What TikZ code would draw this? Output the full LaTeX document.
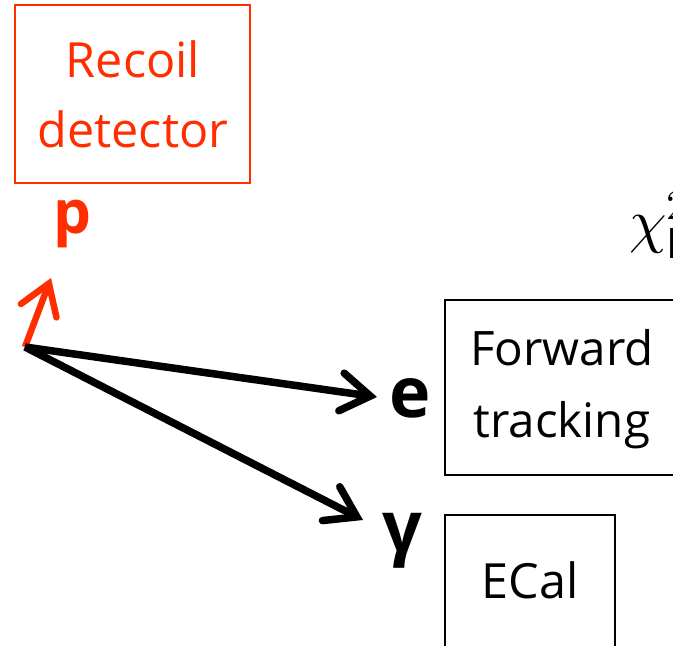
\documentclass[tikz,border=0pt]{standalone}
\usepackage{fontspec}
\usepackage{unicode-math}
\setmainfont{Open Sans}
\setmathfont{Latin Modern Math}
\usetikzlibrary{arrows.meta}
\definecolor{recoilred}{RGB}{255,45,0}
\begin{document}
\begin{tikzpicture}[x=1pt,y=-1pt,
  detbox/.style={draw, line width=2pt, inner sep=0pt},
  bigtext/.style={font=\fontsize{48.5}{70}\selectfont, align=center, inner sep=0pt},
  partlabel/.style={font=\fontsize{70}{70}\selectfont\bfseries, inner sep=0pt, anchor=base},
  track/.style={line width=7.5pt, -{Straight Barb[length=29pt,width=38pt,line cap=round]}}]
  \clip (0,0) rectangle (673,646);
  \useasboundingbox (0,0) rectangle (673,646);

  % detector boxes (the base anchor of a two-line node sits on its last line)
  \draw[detbox, recoilred] (15,5) rectangle (250,183);
  \node[bigtext, text=recoilred, anchor=base] (recoil) at (133,147) {Recoil\\detector};
  \draw[detbox] (445,300) rectangle (690,475);
  \node[bigtext, anchor=base west, font=\fontsize{47.5}{72}\selectfont] (fwd) at (470,437) {Forward\\tracking};
  \draw[detbox] (445,515) rectangle (615,660);
  \node[bigtext, anchor=base] (ecal) at (530,598) {ECal};

  % vertex and particle labels
  \coordinate (vtx) at (25,347);
  \node[partlabel, text=recoilred, font=\fontsize{60}{60}\selectfont\bfseries] (p) at (72,233) {p};
  \node[partlabel] (e) at (410,417) {e};
  \node[partlabel] (g) at (402,551) {γ};
  \coordinate (ptip) at (51,278);
  \coordinate (etip) at (377,397);
  \coordinate (gtip) at (363,520);

  % tracks
  \draw[track, recoilred, line width=6.5pt] (vtx) -- (ptip);
  \draw[track] (vtx) -- (etip);
  \draw[track] (vtx) -- (gtip);

  % fit quantity
  \node[font=\fontsize{60}{70}\selectfont, anchor=base west, inner sep=0pt] (chi) at (629,241) {$\chi^2_{\mathrm{D}}$};
\end{tikzpicture}
\end{document}
